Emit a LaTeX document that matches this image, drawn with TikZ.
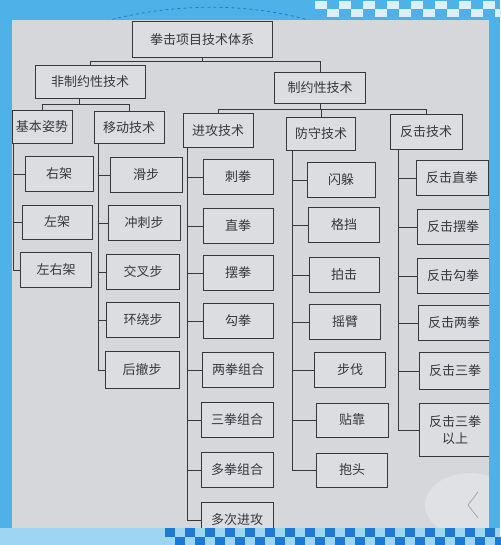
\documentclass[tikz,border=0pt]{standalone}
\usepackage{fontspec}
\newfontfamily\cjk{Noto Sans CJK SC}
\usetikzlibrary{positioning}
\definecolor{skyblue}{RGB}{78,178,232}
\definecolor{deepblue}{RGB}{28,122,212}
\definecolor{paper}{RGB}{213,215,219}
\definecolor{boxfill}{RGB}{219,221,225}
\definecolor{ink}{RGB}{55,55,60}

\begin{document}
\begin{tikzpicture}[x = 1pt, y = -1pt, style={font=\cjk\fontsize{13}{15}\selectfont}]
\tikzset{
  box/.style={draw=ink, line width=1pt, fill=boxfill, text=ink, inner sep=1pt,
    minimum width=70pt, minimum height=35pt, align=center},
  link/.style={draw=ink, line width=0.9pt}
}
\useasboundingbox (0,0) rectangle (500,545);
% Background
\fill[skyblue] (0,0) rectangle (500,545);
\draw[deepblue, dashed, line width=0.8pt] (95,24) .. controls (170,2) and (250,2) .. (315,22);
\foreach \i in {0,...,7} {
  \fill[white!80!skyblue] ({315+24*\i},1) rectangle ++(12,8);
  \fill[white!80!skyblue] ({327+24*\i},9) rectangle ++(12,8);
}
\begin{scope}
\clip (12,20) rectangle (489,528);
\fill[paper] (12,20) rectangle (489,528);
% Root and first level
\node[box, minimum width=140pt, minimum height=36pt] (root) at (202, 40) {拳击项目技术体系};
\node[box, minimum width=110pt, minimum height=33pt] (fz) at (90, 82) {非制约性技术};
\node[box, minimum width=91pt, minimum height=31pt] (zy) at (320, 88) {制约性技术};
\draw[link] (root.south) -- ++(0,3) -| (fz.north);
\draw[link] (root.south) -- ++(0,3) -| (zy.north);
% Second level
\node[box, minimum width=60pt, minimum height=33pt] (jb) at (42, 127) {基本姿势};
\node[box, minimum height=32pt] (yd) at (129, 128) {移动技术};
\node[box, minimum height=34pt] (jg) at (218, 131) {进攻技术};
\node[box, minimum width=69pt, minimum height=33pt] (fs) at (321, 134) {防守技术};
\node[box, minimum width=72pt] (fj) at (426, 132) {反击技术};
\draw[link] ([xshift=-11pt]fz.south) -- ++(0,5) -| (jb.north);
\draw[link] ([xshift=-11pt]fz.south) -- ++(0,5) -| (yd.north);
\foreach \n in {jg,fs,fj}
  \draw[link] (zy.south) -- ++(0,5) -| (\n.north);
% Basic stances
\node[box, minimum width=68pt] (yj) at (59, 174) {右架};
\node[box, minimum width=70pt, minimum height=34pt] (zj) at (57, 222) {左架};
\node[box, minimum width=71pt] (zyj) at (56, 270) {左右架};
\foreach \c in {yj,zj,zyj}
  \draw[link] ([xshift=2pt]jb.south west) |- (\c.west);
% Footwork
\node[box, minimum width=72pt] (hb) at (146, 175) {滑步};
\node[box, minimum width=72pt] (ccb) at (144, 223) {冲刺步};
\node[box, minimum width=73pt] (jcb) at (143, 272) {交叉步};
\node[box, minimum width=73pt] (hrb) at (143, 320) {环绕步};
\node[box, minimum width=74pt, minimum height=37pt] (hcb) at (142, 370) {后撤步};
\foreach \c in {hb,ccb,jcb,hrb,hcb}
  \draw[link] ([xshift=5pt]yd.south west) |- (\c.west);
% Attack
\node[box] (cq) at (238, 177) {刺拳};
\node[box] (zq) at (238, 226) {直拳};
\node[box] (bq) at (238, 273) {摆拳};
\node[box] (gq) at (238, 321) {勾拳};
\node[box, minimum width=71pt] (lq) at (238, 370) {两拳组合};
\node[box, minimum width=72pt] (sq) at (237, 420) {三拳组合};
\node[box, minimum width=72pt] (dq) at (237, 470) {多拳组合};
\node[box, minimum width=72pt] (dc) at (237, 520) {多次进攻};
\foreach \c in {cq,zq,bq,gq,lq,sq,dq,dc}
  \draw[link] ([xshift=5pt]jg.south west) |- (\c.west);
% Defence
\node[box, minimum width=68pt] (sd) at (341, 180) {闪躲};
\node[box, minimum width=71pt] (gd) at (344, 225) {格挡};
\node[box, minimum width=70pt] (pj) at (344, 275) {拍击};
\node[box, minimum width=71pt] (yb) at (345, 322) {摇臂};
\node[box, minimum width=71pt] (bf) at (350, 370) {步伐};
\node[box, minimum width=72pt, minimum height=34pt] (tk) at (352, 420) {贴靠};
\node[box, minimum width=71pt, minimum height=34pt] (bt) at (352, 470) {抱头};
\foreach \c in {sd,gd,pj,yb,bf,tk,bt}
  \draw[link] ([xshift=6.5pt]fs.south west) |- (\c.west);
% Counter
\node[box, minimum width=72pt] (fz1) at (452, 178) {反击直拳};
\node[box, minimum width=72pt] (fz2) at (453, 227) {反击摆拳};
\node[box, minimum width=72pt] (fz3) at (453, 276) {反击勾拳};
\node[box, minimum width=72pt] (fz4) at (454, 323) {反击两拳};
\node[box, minimum width=72pt, minimum height=37pt] (fz5) at (455, 371) {反击三拳};
\node[box, minimum width=72pt, minimum height=53pt, font=\cjk\fontsize{13}{17}\selectfont] (fz6) at (455, 430) {反击三拳\\以上};
\foreach \c in {fz1,fz2,fz3,fz4,fz5,fz6}
  \draw[link] ([xshift=9pt]fj.south west) |- (\c.west);
% Viewer overlay
\fill[white, opacity=0.25] (470,505) ellipse (45pt and 32pt);
\draw[gray!70!white, line width=0.8pt] (478,492) -- (468,505) -- (478,518);
\end{scope}
% Bottom band
\fill[skyblue!55!white] (0,528) rectangle (500,545);
\foreach \i in {0,...,16} {
  \fill[deepblue] ({165+20*\i},528) rectangle ++(10,9);
  \fill[deepblue] ({175+20*\i},537) rectangle ++(10,8);
}
\end{tikzpicture}
\end{document}
